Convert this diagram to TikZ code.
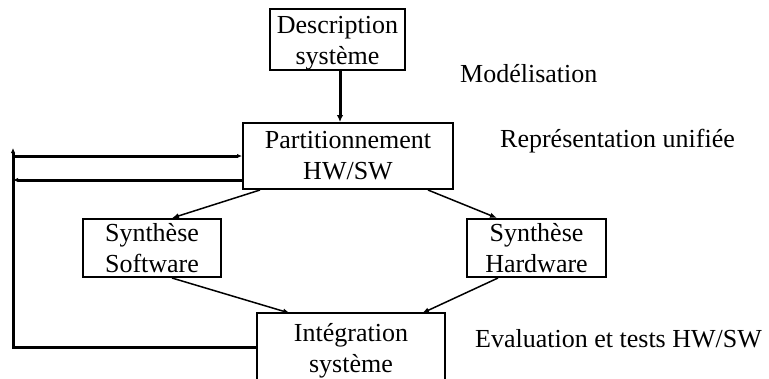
\documentclass[tikz,border=0pt]{standalone}
\usepackage{fontspec}
\setmainfont{Liberation Serif}
\usetikzlibrary{arrows.meta}
\begin{document}
\begin{tikzpicture}[x=1pt,y=-1pt,
  box/.style={draw,line width=2pt,inner sep=0pt,align=center,
    font=\fontsize{26}{31}\selectfont},
  lbl/.style={anchor=base west,inner sep=0pt,font=\fontsize{26}{31}\selectfont},
  flow/.style={line width=1.5pt,-{Latex[length=7pt,width=5.5pt]}},
  looparrow/.style={line width=3pt,-{Latex[length=5pt,width=4.5pt]}}]
\clip (0,0) rectangle (769,378);
\fill[white] (0,0) rectangle (769,378);

% processing steps
\node[box,minimum width=135pt,minimum height=57pt] (desc) at (337.5,39.5)
  {\rule{0pt}{24pt}Description\\système};
\node[box,minimum width=210pt,minimum height=66pt] (part) at (348,156)
  {Partitionnement\\HW/SW};
\node[box,minimum width=138pt,minimum height=58pt] (soft) at (152,248)
  {Synthèse\\Software};
\node[box,minimum width=139pt,minimum height=58pt] (hard) at (536.5,248)
  {Synthèse\\Hardware};
\node[box,draw=none,minimum width=186pt,minimum height=62pt] (integ) at (351,346)
  {\rule{0pt}{27pt}Intégration\\système};
\draw[line width=2pt] ([yshift=-30pt]integ.south west) |- (integ.north east)
  -- ([yshift=-30pt]integ.south east);

% level annotations
\node[lbl] (l1) at (460,82) {Modélisation};
\node[lbl] (l2) at (500,147) {Représentation unifiée};
\node[lbl] (l3) at (475,347) {Evaluation et tests HW/SW};

% forward flow
\draw[line width=3pt,-{Latex[length=7pt,width=6.5pt]}] (desc.south -| 340,0) -- (part.north -| 340,0);
\draw[flow] ([xshift=-88pt]part.south) -- ([xshift=20pt]soft.north);
\draw[flow] ([xshift=80pt]part.south) -- ([xshift=-39.5pt]hard.north);
\draw[flow] ([xshift=20pt]soft.south) -- ([xshift=-61pt]integ.north);
\draw[flow] ([xshift=-38.5pt]hard.south) -- ([xshift=71pt]integ.north);

% feedback loop
\coordinate (top) at (13,148);
\coordinate (inL) at (13,156);
\coordinate (outL) at (13,180);
\draw[looparrow] (inL) -- (part.west |- inL);
\draw[looparrow] (part.west |- outL) -- (outL);
\draw[looparrow] (integ.west |- 0,347) -| (top);
\end{tikzpicture}
\end{document}
